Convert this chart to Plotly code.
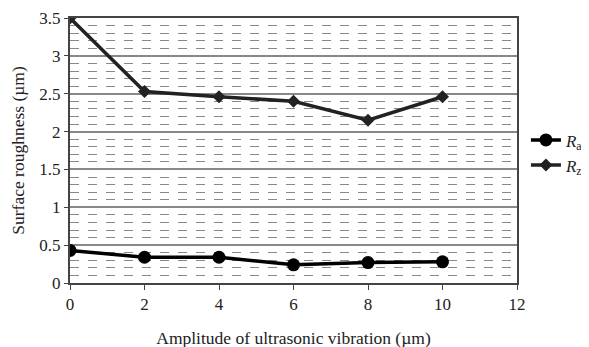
import plotly.graph_objects as go

amplitude = [0, 2, 4, 6, 8, 10]
ra_values = [0.43, 0.34, 0.34, 0.24, 0.27, 0.28]
rz_values = [3.5, 2.53, 2.46, 2.40, 2.15, 2.46]

x_ticks = [0, 2, 4, 6, 8, 10, 12]
y_ticks = [0, 0.5, 1, 1.5, 2, 2.5, 3, 3.5]
y_tick_text = ["0", "0.5", "1", "1.5", "2", "2.5", "3", "3.5"]

font_family = "Liberation Serif"

fig = go.Figure()
fig.add_trace(go.Scatter(
    x=amplitude, y=ra_values, mode="lines+markers",
    name="<i>R</i><sub>a</sub>",
    line=dict(color="black", width=3.5),
    marker=dict(symbol="circle", size=13, color="black"),
))
fig.add_trace(go.Scatter(
    x=amplitude, y=rz_values, mode="lines+markers",
    name="<i>R</i><sub>z</sub>",
    line=dict(color="#222222", width=3.5),
    marker=dict(symbol="diamond", size=10, color="#222222"),
))

fig.update_layout(
    width=589, height=347,
    margin=dict(l=62, r=80, t=10, b=72, autoexpand=False),
    paper_bgcolor="white", plot_bgcolor="white",
    font=dict(family=font_family, size=17, color="#222222"),
    showlegend=True,
    legend=dict(x=1.02, y=0.606, xanchor="left", yanchor="top",
                font=dict(family=font_family, size=17, color="#222222"),
                bgcolor="rgba(0,0,0,0)", tracegroupgap=0, itemwidth=30),
    xaxis=dict(
        range=[0, 12], tickvals=x_ticks, ticktext=[str(v) for v in x_ticks],
        showgrid=False, zeroline=False, automargin=False,
        showline=True, linecolor="#444444", linewidth=2, mirror=True,
        ticks="outside", ticklen=5, tickcolor="#444444",
        title=dict(text="Amplitude of ultrasonic vibration (µm)", standoff=18,
                   font=dict(family=font_family, size=17.5)),
        tickfont=dict(family=font_family, size=17),
    ),
    yaxis=dict(
        range=[0, 3.5], tickvals=y_ticks, ticktext=y_tick_text,
        showgrid=True, gridcolor="#888888", gridwidth=1.5,
        zeroline=False, automargin=False,
        showline=True, linecolor="#444444", linewidth=2, mirror=True,
        ticks="outside", ticklen=4, tickcolor="#444444",
        minor=dict(dtick=0.1, tick0=0, showgrid=True, gridcolor="#888888",
                   griddash="dash", gridwidth=1),
        title=dict(text="Surface roughness (µm)", standoff=15,
                   font=dict(family=font_family, size=17.5)),
        tickfont=dict(family=font_family, size=17),
    ),
)

fig.write_html("out.html")
